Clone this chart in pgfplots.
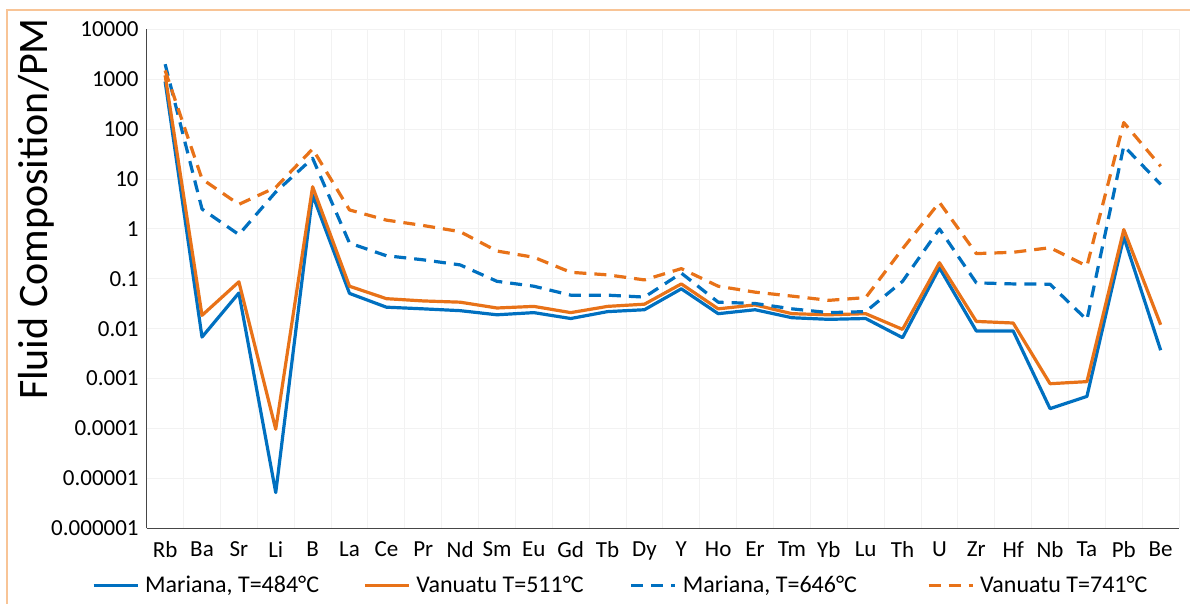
\documentclass[border=0pt]{standalone}
\usepackage{fontspec}
\setmainfont{Carlito}
\usepackage{pgfplots}
\pgfplotsset{compat=1.18}
\usepackage{pgfplotstable}
\definecolor{xblue}{RGB}{0,112,192}
\definecolor{xorange}{RGB}{232,114,24}
\definecolor{xframe}{RGB}{248,196,150}
\definecolor{xgrid}{RGB}{242,242,242}
\definecolor{xaxis}{RGB}{70,70,70}

\pgfplotstableread{
idx m484 v511 m646 v741
0 900 1200 2000 1500
1 0.0068 0.0185 2.5 10
2 0.052 0.087 0.77 3.1
3 0.0000052 0.000097 5.5 6.8
4 4.8 7.0 26 40
5 0.051 0.071 0.52 2.4
6 0.027 0.040 0.29 1.5
7 0.025 0.036 0.24 1.17
8 0.023 0.034 0.19 0.88
9 0.019 0.026 0.089 0.36
10 0.021 0.028 0.071 0.27
11 0.016 0.021 0.047 0.135
12 0.022 0.028 0.047 0.12
13 0.024 0.031 0.043 0.095
14 0.063 0.079 0.13 0.16
15 0.020 0.025 0.034 0.071
16 0.024 0.030 0.032 0.054
17 0.0166 0.020 0.025 0.045
18 0.0154 0.019 0.021 0.037
19 0.016 0.020 0.022 0.042
20 0.0066 0.0097 0.089 0.4
21 0.166 0.21 1.0 3.4
22 0.009 0.014 0.083 0.32
23 0.009 0.013 0.079 0.34
24 0.00025 0.00079 0.078 0.42
25 0.00044 0.00087 0.015 0.18
26 0.69 0.97 46 135
27 0.0037 0.012 7.8 18
}\data

\begin{document}
\begin{tikzpicture}[x=1pt,y=1pt]
\useasboundingbox (0,0) rectangle (595,-302);
\draw[xframe, line width=0.8pt] (3.35,-302) -- (3.35,-5) -- (595,-5);
\begin{axis}[
  at={(73.35pt,-264.15pt)}, anchor=south west,
  scale only axis, width=516.2pt, height=249.5pt,
  ymode=log, ymin=1e-6, ymax=1e4,
  xmin=-0.5, xmax=27.5,
  xtick={0,...,27},
  xticklabels={Rb,Ba,Sr,Li,B,La,Ce,Pr,Nd,Sm,Eu,Gd,Tb,Dy,Y,Ho,Er,Tm,Yb,Lu,Th,U,Zr,Hf,Nb,Ta,Pb,Be},
  minor xtick={-0.5,0.5,...,27.5},
  ytick={1e-6,1e-5,1e-4,1e-3,1e-2,1e-1,1,10,100,1000,10000},
  yticklabels={0.000001,0.00001,0.0001,0.001,0.01,0.1,1,10,100,1000,10000},
  minor ytick={},
  xminorgrids, ymajorgrids, xmajorgrids=false,
  grid style={xgrid, line width=0.5pt},
  minor grid style={xgrid, line width=0.5pt},
  major tick length=0pt, minor tick length=0pt,
  axis lines*=left,
  axis line style={xaxis, line width=0.6pt},
  ticklabel style={font=\fontsize{11.5}{13}\selectfont, text=black},
  xticklabel style={yshift=-3pt},
  yticklabel style={xshift=-0.5pt},
  ylabel={Fluid Composition/PM},
  ylabel style={at={(axis description cs:-0.1072,0.64)}, anchor=center, font=\fontsize{21}{24}\selectfont},
  legend columns=4,
  legend style={draw=none, fill=none, at={(-0.053,-0.115)}, anchor=west,
    inner sep=0pt, outer sep=0pt,
    font=\fontsize{12}{14}\selectfont,
    /tikz/column 2/.style={column sep=20pt},
    /tikz/column 4/.style={column sep=21pt},
    /tikz/column 6/.style={column sep=33pt},
    /tikz/every odd column/.append style={column sep=1pt}},
  legend image code/.code={\draw[#1] (0pt,0pt) -- (22pt,0pt);},
  line join=round,
]
\addplot[xblue, line width=1.6pt] table[x=idx,y=m484]{\data};
\addlegendentry{Mariana, T=484°C}
\addplot[xorange, line width=1.6pt] table[x=idx,y=v511]{\data};
\addlegendentry{Vanuatu T=511°C}
\addplot[xblue, line width=1.6pt, dash pattern=on 6pt off 4pt] table[x=idx,y=m646]{\data};
\addlegendentry{Mariana, T=646°C}
\addplot[xorange, line width=1.6pt, dash pattern=on 6pt off 4pt] table[x=idx,y=v741]{\data};
\addlegendentry{Vanuatu T=741°C}
\end{axis}
\end{tikzpicture}
\end{document}
